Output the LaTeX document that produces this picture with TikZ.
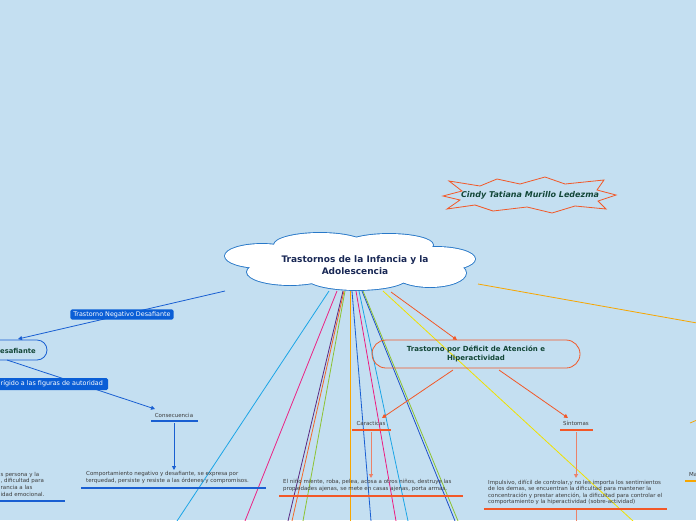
\documentclass[tikz,border=0pt]{standalone}
\usepackage{fontspec}
\setmainfont{DejaVu Sans}
\usetikzlibrary{arrows.meta}
\definecolor{bg}{RGB}{196,223,241}
\definecolor{cloudline}{RGB}{40,120,200}
\definecolor{navy}{RGB}{25,40,85}
\definecolor{dgreen}{RGB}{18,70,55}
\definecolor{boxblue}{RGB}{10,94,214}
\definecolor{lblue}{RGB}{25,95,210}
\definecolor{ored}{RGB}{242,88,40}
\definecolor{salmon}{RGB}{235,130,105}
\definecolor{gold}{RGB}{247,166,0}
\definecolor{cyanl}{RGB}{28,165,230}
\definecolor{pinkl}{RGB}{236,30,130}
\definecolor{purpl}{RGB}{90,40,130}
\definecolor{orgl}{RGB}{243,105,40}
\definecolor{ygreen}{RGB}{140,195,50}
\definecolor{dblue}{RGB}{30,80,200}
\definecolor{yell}{RGB}{240,225,0}
\definecolor{txt}{RGB}{60,60,60}
\tikzset{
  tip/.style={-{Triangle[length=4pt,width=4pt]}},
  small/.style={font=\fontsize{5.5}{6.6}\selectfont, text=txt, inner sep=0pt, align=left},
  lbl/.style={font=\fontsize{5.5}{6.5}\selectfont, text=txt, inner sep=0pt},
  bluebox/.style={fill=boxblue, text=white, rounded corners=1.5pt, font=\fontsize{6.4}{7.5}\selectfont, inner xsep=3pt, inner ysep=2pt},
  ray/.style={line width=0.8pt},
}
\begin{document}
\begin{tikzpicture}[x=1pt,y=-1pt]
\useasboundingbox (0,0) rectangle (696,520);
\clip (0,0) rectangle (696,520);
\fill[bg] (0,0) rectangle (696,520);

% ---- rays from the central cloud
\coordinate (r1a) at (329,291); \coordinate (r1b) at (177,521);
\coordinate (r2a) at (337,291); \coordinate (r2b) at (245,521);
\coordinate (r3a) at (343,291); \coordinate (r3b) at (288,521);
\coordinate (r4a) at (344,291); \coordinate (r4b) at (292,521);
\coordinate (r5a) at (345,291); \coordinate (r5b) at (303,521);
\coordinate (r6a) at (350,291); \coordinate (r6b) at (350,521);
\coordinate (r7a) at (352,291); \coordinate (r7b) at (371,521);
\coordinate (r8a) at (356,291); \coordinate (r8b) at (396,521);
\coordinate (r9a) at (359,291); \coordinate (r9b) at (408,521);
\coordinate (r10a) at (362,291); \coordinate (r10b) at (455,521);
\coordinate (r11a) at (363,291); \coordinate (r11b) at (458,521);
\coordinate (r12a) at (383,291); \coordinate (r12b) at (633,521);
\coordinate (r13a) at (478,284); \coordinate (r13b) at (697,323);
\draw[ray, cyanl] (r1a) -- (r1b);
\draw[ray, pinkl] (r2a) -- (r2b);
\draw[ray, purpl] (r3a) -- (r3b);
\draw[ray, orgl] (r4a) -- (r4b);
\draw[ray, ygreen] (r5a) -- (r5b);
\draw[ray, gold, line width=1pt] (r6a) -- (r6b);
\draw[ray, lblue] (r7a) -- (r7b);
\draw[ray, pinkl] (r8a) -- (r8b);
\draw[ray, cyanl] (r9a) -- (r9b);
\draw[ray, dblue] (r10a) -- (r10b);
\draw[ray, ygreen] (r11a) -- (r11b);
\draw[ray, yell] (r12a) -- (r12b);
\draw[ray, gold] (r13a) -- (r13b);

% ---- central cloud
\foreach \cx/\cy/\rx/\ry in {262/256/37/12, 320/245/46/12, 389/245/44/11, 436/259/39/12, 290/272/43/13, 357/278/50/12, 430/273/36/14, 350/262/95/20}
  \draw[cloudline, line width=1.8pt] (\cx,\cy) ellipse [x radius=\rx pt, y radius=\ry pt];
\foreach \cx/\cy/\rx/\ry in {262/256/37/12, 320/245/46/12, 389/245/44/11, 436/259/39/12, 290/272/43/13, 357/278/50/12, 430/273/36/14, 350/262/95/20}
  \fill[white] (\cx,\cy) ellipse [x radius=\rx pt, y radius=\ry pt];
\node[font=\bfseries\fontsize{9}{11.5}\selectfont, text=navy, align=center, inner sep=0pt] (cloud) at (355,265) {Trastornos de la Infancia y la\\Adolescencia};
\coordinate (cl) at (225,291);
\coordinate (cr) at (391,292);

% ---- author starburst
\draw[ored, line width=0.8pt] (443,196) -- (462,191) -- (449,181) -- (480,186) -- (497,179) -- (520,184) -- (545,177) -- (565,184) -- (604,180) -- (597,190) -- (616,195) -- (598,201) -- (606,209) -- (575,206) -- (552,213) -- (527,207) -- (493,211) -- (475,205) -- (447,209) -- (460,200) -- cycle;
\node[font=\bfseries\itshape\fontsize{8}{10}\selectfont, text=dgreen, inner sep=0pt] (author) at (530,195) {Cindy Tatiana Murillo Ledezma};

% ---- left branch: Trastorno Negativo Desafiante
\draw[rounded corners=10pt, lblue, line width=0.8pt] (-30,340) rectangle (47,360);
\node[font=\bfseries\fontsize{6.8}{8}\selectfont, text=dgreen, anchor=west, inner sep=0pt] (tnd) at (0,351) {esafiante};
\coordinate (tndtop) at (18,339);
\coordinate (tndbot) at (7,360);
\draw[lblue, line width=0.8pt, tip] (cl) -- (tndtop);
\node[bluebox] (lab1) at (122,314.5) {Trastorno Negativo Desafiante};

\node[lbl] (cons) at (174,415) {Consecuencia};
\coordinate (consin) at (155,409);
\draw[lblue, line width=0.8pt, tip] (tndbot) -- (consin);
\fill[boxblue, rounded corners=1.5pt] (-5,378) rectangle (108,390);
\node[font=\fontsize{6.4}{7.5}\selectfont, text=white, anchor=west, inner sep=0pt] (lab2) at (0.5,384) {rígido a las figuras de autoridad};
\draw[lblue, line width=1.2pt] (151,421) -- (198,421);
\node[small, anchor=north west] (comp) at (86,471.5) {Comportamiento negativo y desafiante, se expresa por\\terquedad, persiste y resiste a las órdenes y  compromisos.};
\draw[lblue, line width=0.8pt, tip] (174,423) -- (174,470);
\draw[lblue, line width=1.2pt] (81,488) -- (266,488);

\node[small, anchor=north west] (lefttxt) at (0.5,472) {s persona y la\\, dificultad para\\rancia a las\\idad emocional.};
\draw[lblue, line width=1.2pt] (0,501) -- (65,501);

% ---- right branch: TDAH
\draw[ored, line width=0.8pt, rounded corners=14pt] (372,340) rectangle (580,368);
\node[font=\bfseries\fontsize{7}{8.5}\selectfont, text=dgreen, align=center, inner sep=0pt] (tdah) at (476,354) {Trastorno por Déficit de Atención e\\Hiperactividad};
\draw[ored, line width=0.8pt, tip] (cr) -- (457,340);

\node[lbl] (car) at (371,423) {Caracticas};
\draw[ored, line width=1.2pt] (352,430) -- (391,430);
\draw[ored, line width=0.8pt, tip] (453,370) -- (382,418);
\draw[salmon, line width=1pt, tip] (371,432) -- (371,478);
\node[small, anchor=north west] (nino) at (283,479.5) {El niño miente, roba, pelea, acosa a otros niños, destruye las\\propiedades ajenas, se mete en casas ajenas, porta armas.};
\draw[ored, line width=1.2pt] (279,496) -- (463,496);

\node[lbl] (sin) at (576,423) {Síntomas};
\draw[ored, line width=1.2pt] (560,430) -- (593,430);
\draw[ored, line width=0.8pt, tip] (499,370) -- (568,418);
\draw[salmon, line width=1pt, tip] (576,432) -- (576,478);
\node[small, anchor=north west] (imp) at (488,479.5) {Impulsivo, difícil de controlar,y no les importa los sentimientos\\de los demas,  se encuentran la dificultad para mantener la\\concentración y prestar atención, la dificultad para controlar el\\comportamiento y la hiperactividad (sobre-actividad)};
\draw[ored, line width=1.2pt] (484,509) -- (667,509);
\draw[salmon, line width=1pt] (576,510) -- (576,521);

% ---- far right fragments
\draw[gold, line width=0.8pt] (697,420) -- (690,423);
\node[lbl, anchor=west] (ma) at (689,475) {Ma};
\draw[gold, line width=1.2pt] (685,481) -- (697,481);
\end{tikzpicture}
\end{document}
